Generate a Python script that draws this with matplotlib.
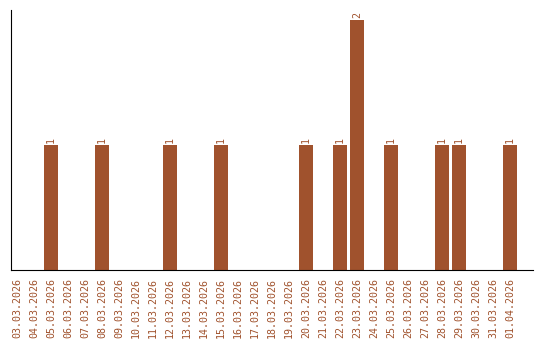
import matplotlib
matplotlib.use("Agg")
import matplotlib.pyplot as plt
import datetime as dt

start = dt.date(2026, 3, 3)
dates = [(start + dt.timedelta(days=i)).strftime("%d.%m.%Y") for i in range(30)]
counts_by_date = {
    "05.03.2026": 1, "08.03.2026": 1, "12.03.2026": 1, "15.03.2026": 1,
    "20.03.2026": 1, "22.03.2026": 1, "23.03.2026": 2, "25.03.2026": 1,
    "28.03.2026": 1, "29.03.2026": 1, "01.04.2026": 1,
}
values = [counts_by_date.get(d, 0) for d in dates]

color = "#A0522D"
fig = plt.figure(figsize=(5.4, 3.4), dpi=100)
ax = fig.add_axes([11/540, 70/340, 522/540, 260/340])
x = list(range(len(dates)))
bars = ax.bar(x, values, width=0.82, color=color)
for xi, v in zip(x, values):
    if v > 0:
        ax.text(xi, v + 0.02, str(v), rotation=90, ha="center", va="bottom",
                color=color, fontsize=7.2, family="DejaVu Sans Mono")
ax.set_xlim(-0.35, 30.35)
ax.set_ylim(0, 2.08)
ax.set_xticks(x)
ax.set_xticklabels(dates, rotation=90, color=color, fontsize=7.2, family="DejaVu Sans Mono")
ax.tick_params(axis="x", length=0, pad=6)
ax.set_yticks([])
ax.spines["top"].set_visible(False)
ax.spines["right"].set_visible(False)
fig.savefig("out.png", dpi=100)
